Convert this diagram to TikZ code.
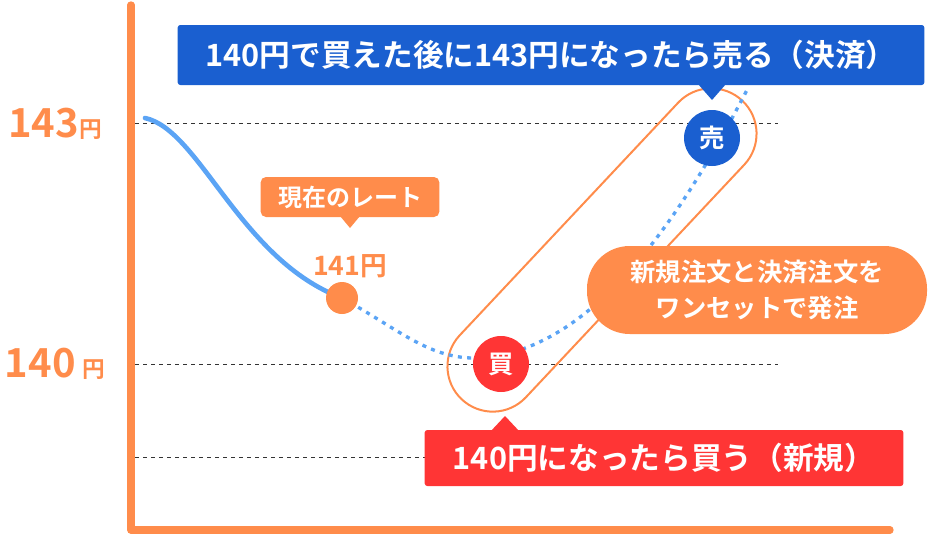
\documentclass[tikz,border=0pt]{standalone}
\usepackage{fontspec}
\setmainfont{Noto Sans CJK JP}[BoldFont={Noto Sans CJK JP Bold}]
\usetikzlibrary{shapes.misc}
\definecolor{org}{HTML}{FF8C4B}
\definecolor{blu}{HTML}{5BA4F5}
\definecolor{dblu}{HTML}{1A5FD0}
\definecolor{rd}{HTML}{FF3535}
\begin{document}
\begin{tikzpicture}[x=0.75pt,y=-0.75pt,
  guide/.style={dashed,black!80,line width=0.6pt},
  lbl/.style={text=org,font=\bfseries\fontsize{30}{32}\selectfont},
  banner/.style={text=white,font=\bfseries\fontsize{23}{26}\selectfont,inner sep=0pt,minimum height=45pt},
  badge/.style={circle,minimum size=42pt,inner sep=0pt,text=white,font=\bfseries\fontsize{19}{20}\selectfont}]
\useasboundingbox (0,0) rectangle (938,539);
% guides
\draw[guide] (135,123) -- (778,123);
\draw[guide] (135,364) -- (778,364);
\draw[guide] (135,457) -- (430,457);
% axes
\draw[org,line width=5.5pt,line cap=round,line join=round] (131,5) -- (131,530) -- (890,530);
\node[lbl] (l143) at (55,124) {143\fontsize{17}{17}\selectfont 円};
\node[lbl] (l140) at (55,364) {140\,\fontsize{17}{17}\selectfont 円};
% capsule
\node[draw=org,line width=1.5pt,rounded rectangle,minimum width=314pt,minimum height=68pt,rotate=46.8] (cap) at (602,250) {};
% curve
\draw[blu,line width=3.5pt,line cap=round] (145,118) .. controls (200,130) and (240,260) .. (342,298);
\coordinate (rate) at (342,298);
\draw[blu,line width=2.5pt,dash pattern=on 3pt off 4pt] (342,298) .. controls (400,330) and (430,360) .. (480,358) .. controls (600,350) and (690,200) .. (748,88);
\node[circle,fill=org,minimum size=24pt,inner sep=0pt] (dot) at (rate) {};
% rate callout
\node[fill=org,rounded corners=4pt,text=white,font=\bfseries\fontsize{18}{20}\selectfont,minimum width=134pt,minimum height=30pt] (cur) at (350,197) {現在のレート};
\fill[org] (340,216) -- (360,216) -- (350,228) -- cycle;
\node[text=org,font=\bfseries\fontsize{20}{22}\selectfont] (p141) at (350,266) {141円};
% badges
\node[badge,fill=dblu] (sell) at (712,138) {売};
\node[badge,fill=rd] (buy) at (501,364) {買};
% blue banner
\node[banner,fill=dblu,minimum width=560pt,rounded corners=2pt] (bb) at (551,55) {140円で買えた後に143円になったら売る（決済）};
\fill[dblu] (698,84) -- (726,84) -- (712,100) -- cycle;
% red banner
\node[banner,fill=rd,minimum width=359pt,minimum height=42pt,rounded corners=2pt] (rb) at (664,458) {140円になったら買う（新規）};
\fill[rd] (490,432) -- (520,432) -- (505,416) -- cycle;
% orange pill
\node[fill=org,rounded corners=32pt,text=white,align=center,font=\bfseries\fontsize{19}{27}\selectfont,minimum width=255pt,minimum height=66pt] (set) at (757,290) {新規注文と決済注文を\\ワンセットで発注};
\end{tikzpicture}
\end{document}
